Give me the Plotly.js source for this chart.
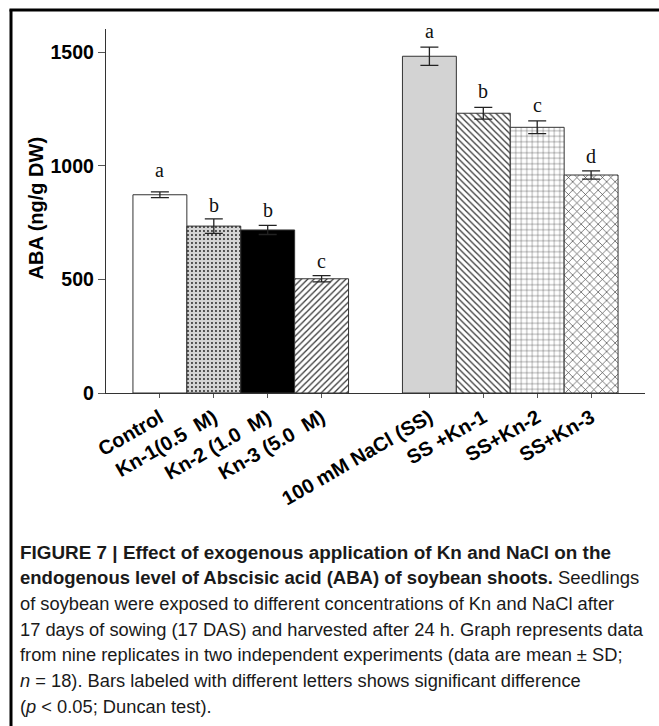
<!DOCTYPE html>
<html>
<head>
<meta charset="utf-8">
<script src="https://cdn.plot.ly/plotly-3.0.1.min.js"></script>
<style>html,body{margin:0;padding:0;background:#fff;}#chart{width:659px;height:726px;}</style>
</head>
<body>
<div id="chart"></div>
<script>
// ---- data ----
const slots = [0, 1, 2, 3, 5, 6, 7, 8];
const categories = ['Control', 'Kn-1(0.5\u00a0 M)', 'Kn-2 (1.0\u00a0 M)', 'Kn-3 (5.0\u00a0 M)',
  '100 mM NaCl (SS)', 'SS +Kn-1', 'SS+Kn-2', 'SS+Kn-3'];
const abaValues = [873, 735, 718, 503, 1483, 1232, 1170, 960];
const abaSD = [13, 32, 20, 14, 40, 26, 28, 18];
const letters = ['a', 'b', 'b', 'c', 'a', 'b', 'c', 'd'];
const yTicks = [0, 500, 1000, 1500];
const yTitle = 'ABA (ng/g DW)';

// ---- styles ----
const patShapes = ['', '.', '', '/', '', '\\', '+', 'x'];
const patBg = ['#ffffff', '#d4d4d4', '#000000', '#ffffff', '#d3d3d3', '#ffffff', '#ffffff', '#ffffff'];
const patFg = ['#000000', '#222222', '#000000', '#333333', '#000000', '#333333', '#444444', '#333333'];
const patSize = [6, 4, 6, 4.5, 6, 4.5, 5.5, 6];
const patSolid = [0.3, 0.18, 0.3, 0.28, 0.3, 0.28, 0.15, 0.2];
const letterShift = [9, 1, 2, 2, 3, 3, 3, 2];

const L = 106, R = 14, T = 29, B = 333, W = 659, H = 726;
const pw = W - L - R, ph = H - T - B;
const px2x = p => (p - L) / pw;
const py2y = p => (H - B - p) / ph;

const traces = slots.map((s, i) => {
  const marker = {color: patBg[i], line: {color: '#333333', width: 1}};
  if (patShapes[i]) {
    marker.pattern = {shape: patShapes[i], bgcolor: patBg[i], fgcolor: patFg[i], fgopacity: 1,
      size: patSize[i], solidity: patSolid[i], fillmode: 'replace'};
  }
  return {
    type: 'bar', x: [s], y: [abaValues[i]], width: 1, marker: marker,
    error_y: {type: 'data', array: [abaSD[i]], visible: true, color: '#222222', thickness: 1.3, width: 9},
    hoverinfo: 'none', name: categories[i]
  };
});

const annotations = letters.map((t, i) => ({
  x: slots[i], y: abaValues[i] + abaSD[i], xref: 'x', yref: 'y',
  text: t, showarrow: false, yanchor: 'bottom', yshift: letterShift[i],
  font: {family: 'Liberation Serif, Times New Roman, serif', size: 20, color: '#111'}
}));

// y-axis title placed precisely
annotations.push({
  xref: 'paper', yref: 'paper', x: px2x(35), y: py2y(208.5), textangle: -90,
  xanchor: 'center', yanchor: 'middle', showarrow: false, text: yTitle,
  font: {family: 'Liberation Sans, Arial, sans-serif', size: 20, weight: 'bold', color: '#000'}
});

const captionLines = [
  '<b>FIGURE 7 | Effect of exogenous application of Kn and NaCl on the</b>',
  '<b>endogenous level of Abscisic acid (ABA) of soybean shoots.</b> Seedlings',
  'of soybean were exposed to different concentrations of Kn and NaCl after',
  '17 days of sowing (17 DAS) and harvested after 24 h. Graph represents data',
  'from nine replicates in two independent experiments (data are mean \u00b1 SD;',
  '<i>n</i> = 18). Bars labeled with different letters shows significant difference',
  '(<i>p</i> &lt; 0.05; Duncan test).'
];
const captionBase = [559, 584, 610, 636, 661, 687, 713];
const captionSize = [18.9, 18.5, 18.3, 18.3, 18.3, 18.3, 18.3];
captionLines.forEach((t, i) => {
  annotations.push({
    xref: 'paper', yref: 'paper', x: px2x(18), y: py2y(captionBase[i] - 6.5),
    xanchor: 'left', yanchor: 'middle', showarrow: false, align: 'left', text: t,
    font: {family: 'Liberation Sans, Arial, sans-serif', size: captionSize[i], color: '#1a1a1a'}
  });
});

const shapes = [
  {type: 'line', xref: 'paper', yref: 'paper', x0: px2x(11), x1: px2x(11), y0: py2y(9.5), y1: py2y(740), line: {color: '#000', width: 3}},
  {type: 'line', xref: 'paper', yref: 'paper', x0: px2x(9.5), x1: px2x(670), y0: py2y(10), y1: py2y(10), line: {color: '#000', width: 3}}
];

const layout = {
  width: W, height: H,
  margin: {l: L, r: R, t: T, b: B},
  paper_bgcolor: '#fff', plot_bgcolor: '#fff',
  showlegend: false,
  barmode: 'overlay',
  bargap: 0,
  xaxis: {
    range: [-1, 9], tickvals: slots, ticktext: categories, tickangle: -30,
    showline: true, linecolor: '#333', linewidth: 1.2, ticks: 'outside', ticklen: 4, tickcolor: '#555',
    showgrid: false, zeroline: false,
    tickfont: {family: 'Liberation Sans, Arial, sans-serif', size: 20, weight: 'bold', color: '#000'}
  },
  yaxis: {
    range: [0, 1603], tickvals: yTicks,
    showline: true, linecolor: '#333', linewidth: 1.2, ticks: 'outside', ticklen: 7, tickcolor: '#555',
    showgrid: false, zeroline: false,
    tickfont: {family: 'Liberation Sans, Arial, sans-serif', size: 19.5, weight: 'bold', color: '#000'}
  },
  annotations: annotations,
  shapes: shapes
};

Plotly.newPlot('chart', traces, layout, {displayModeBar: false, staticPlot: true});
</script>
</body>
</html>
